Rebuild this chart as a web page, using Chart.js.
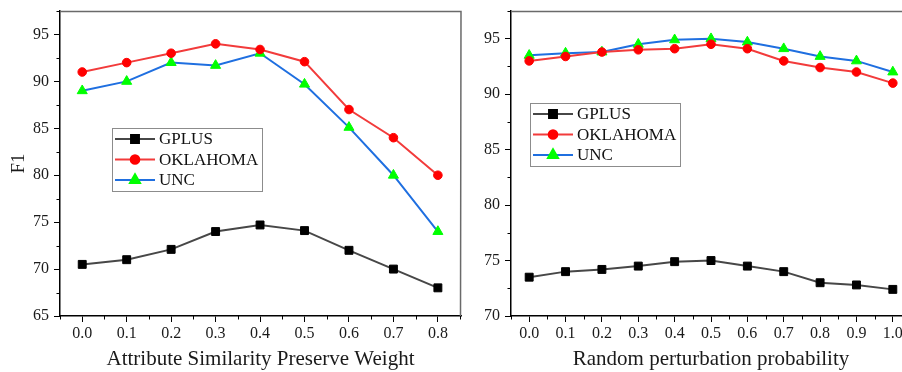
<!DOCTYPE html>
<html><head><meta charset="utf-8">
<script src="https://cdn.jsdelivr.net/npm/chart.js@4"></script>
<style>
html,body{margin:0;padding:0;background:#fff;overflow:hidden;width:902px;height:372px;}
#c1{position:absolute;left:0;top:0;}
#c2{position:absolute;left:462px;top:0;}
</style></head>
<body>
<canvas id="c1"></canvas>
<canvas id="c2"></canvas>
<script>
// ---- data: left panel ----
const weights = [0.0, 0.1, 0.2, 0.3, 0.4, 0.5, 0.6, 0.7, 0.8];
const gplusW = [70.5, 71.0, 72.1, 74.0, 74.7, 74.1, 72.0, 70.0, 68.0];
const oklaW  = [91.0, 92.0, 93.0, 94.0, 93.4, 92.1, 87.0, 84.0, 80.0];
const uncW   = [89.0, 90.0, 92.0, 91.7, 93.0, 89.7, 85.1, 80.0, 74.0];
const yTicksLeft = [65, 70, 75, 80, 85, 90, 95];

// ---- data: right panel ----
const probs  = [0.0, 0.1, 0.2, 0.3, 0.4, 0.5, 0.6, 0.7, 0.8, 0.9, 1.0];
const gplusP = [73.5, 74.0, 74.2, 74.5, 74.9, 75.0, 74.5, 74.0, 73.0, 72.8, 72.4];
const oklaP  = [93.0, 93.4, 93.8, 94.0, 94.1, 94.5, 94.1, 93.0, 92.4, 92.0, 91.0];
const uncP   = [93.5, 93.7, 93.8, 94.5, 94.9, 95.0, 94.7, 94.1, 93.4, 93.0, 92.0];
const yTicksRight = [70, 75, 80, 85, 90, 95];

const seriesNames = ['GPLUS', 'OKLAHOMA', 'UNC'];
const xTitleLeft = 'Attribute Similarity Preserve Weight';
const xTitleRight = 'Random perturbation probability';
const yTitle = 'F1';

const FONT = '"Liberation Serif", "Times New Roman", serif';

const styles = [
  {borderColor:'#474747', pointBackgroundColor:'#000', pointBorderColor:'#000', pointStyle:'rect', pointRadius:5.6},
  {borderColor:'#f23b3b', pointBackgroundColor:'#ff0000', pointBorderColor:'#ff0000', pointStyle:'circle', pointRadius:4.3},
  {borderColor:'#1f6fe0', pointBackgroundColor:'#00ff00', pointBorderColor:'#00ff00', pointStyle:'triangle', pointRadius:5.8}
];

function mkDatasets(xs, arrs){
  return arrs.map((arr,i)=>Object.assign({
    label: seriesNames[i],
    data: xs.map((x,j)=>({x:x, y:arr[j]})),
    borderWidth: 2,
    pointBorderWidth: 1,
    tension: 0,
    clip: false
  }, styles[i]));
}

function minorVals(ticks, min, max){
  const out=[];
  const step = ticks[1]-ticks[0];
  for (let i=-1;i<ticks.length;i++){
    const v = (i<0 ? ticks[0]-step/2 : ticks[i]+step/2);
    if (v>=min-1e-9 && v<=max+1e-9) out.push(v);
  }
  return out;
}

const decor = {
  id:'decor',
  afterDraw(chart, args, o){
    const ctx=chart.ctx, a=chart.chartArea;
    ctx.save();
    // frame top/right
    ctx.strokeStyle='#6a6a6a'; ctx.lineWidth=1.5;
    ctx.beginPath();
    ctx.moveTo(a.left, a.top+0.5); ctx.lineTo(a.right, a.top+0.5); ctx.lineTo(a.right-0.5, a.bottom);
    ctx.stroke();
    // minor ticks
    ctx.strokeStyle='#000'; ctx.lineWidth=1;
    const xs=chart.scales.x, ys=chart.scales.y;
    minorVals(o.xTicks, xs.min, xs.max).forEach(v=>{
      const p=Math.round(xs.getPixelForValue(v))+0.5;
      ctx.beginPath(); ctx.moveTo(p,a.bottom); ctx.lineTo(p,a.bottom+3.5); ctx.stroke();
    });
    minorVals(o.yTicks, ys.min, ys.max).forEach(v=>{
      const p=Math.round(ys.getPixelForValue(v))+0.5;
      ctx.beginPath(); ctx.moveTo(a.left,p); ctx.lineTo(a.left-3.5,p); ctx.stroke();
    });
    // legend box
    const L=o.legend;
    const x=a.left+L.dx, y=a.top+L.dy;
    ctx.strokeStyle='#8c8c8c'; ctx.lineWidth=1;
    ctx.strokeRect(Math.round(x)+0.5, Math.round(y)+0.5, L.w, L.h);
    chart.data.datasets.forEach((ds,i)=>{
      const ry=y+L.row0+i*L.rowH;
      ctx.strokeStyle=ds.borderColor; ctx.lineWidth=ds.borderWidth;
      ctx.beginPath(); ctx.moveTo(x+3,ry); ctx.lineTo(x+43,ry); ctx.stroke();
      ctx.fillStyle=ds.pointBackgroundColor; ctx.strokeStyle=ds.pointBorderColor;
      Chart.helpers.drawPoint(ctx,{pointStyle:ds.pointStyle, radius:ds.pointRadius, borderWidth:1, rotation:0}, x+23, ry);
      ctx.fillStyle='#111'; ctx.font='17px '+FONT; ctx.textBaseline='middle'; ctx.textAlign='left';
      ctx.fillText(ds.label, x+47, ry+1);
    });
    ctx.restore();
  }
};

function mkChart(id, w, xs, arrs, xTicks, xMin, xMax, yTicks, yMin, yMax, yAxisW, showYTitle, xTitle, legend){
  const cv=document.getElementById(id);
  cv.width=w; cv.height=372; cv.style.width=w+'px'; cv.style.height='372px';
  return new Chart(cv, {
    type:'line',
    data:{datasets: mkDatasets(xs, arrs)},
    options:{
      responsive:false, animation:false, devicePixelRatio:1,
      layout:{autoPadding:false, padding:{top:11, right:(id==='c1'?1:0), left:0, bottom:0}},
      plugins:{legend:{display:false}, tooltip:{enabled:false}, decor:{xTicks:xTicks, yTicks:yTicks, legend:legend}},
      scales:{
        x:{
          type:'linear', min:xMin, max:xMax,
          afterBuildTicks:s=>{ s.ticks = xTicks.map(v=>({value:v})); },
          afterFit:s=>{ s.height=56; s.paddingLeft=0; s.paddingRight=0; },
          ticks:{callback:v=>Number(v).toFixed(1), color:'#1a1a1a', font:{family:FONT, size:16}, padding:2, maxRotation:0, autoSkip:false},
          grid:{display:true, drawOnChartArea:false, drawTicks:true, tickLength:6, color:'#000', lineWidth:1},
          border:{display:true, color:'#000', width:1.5},
          title:{display:true, text:xTitle, color:'#1a1a1a', font:{family:FONT, size:21}, padding:{top:0,bottom:0}}
        },
        y:{
          min:yMin, max:yMax,
          afterBuildTicks:s=>{ s.ticks = yTicks.map(v=>({value:v})); },
          afterFit:s=>{ s.width=yAxisW; s.paddingTop=0; s.paddingBottom=0; },
          ticks:{color:'#1a1a1a', font:{family:FONT, size:16}, padding:5},
          grid:{display:true, drawOnChartArea:false, drawTicks:true, tickLength:6, color:'#000', lineWidth:1},
          border:{display:true, color:'#000', width:1.5},
          title:{display:showYTitle, text:yTitle, color:'#1a1a1a', font:{family:FONT, size:19}, padding:{top:8,bottom:0}}
        }
      }
    },
    plugins:[decor]
  });
}

mkChart('c1', 462, weights, [gplusW, oklaW, uncW], weights, -0.05, 0.852, yTicksLeft, 65, 97.5, 60, true, xTitleLeft,
  {dx:52, dy:117, w:150, h:63, row0:11, rowH:20.5});
mkChart('c2', 449, probs, [gplusP, oklaP, uncP], probs, -0.05, 1.05, yTicksRight, 70, 97.5, 49, false, xTitleRight,
  {dx:19, dy:92, w:150, h:63, row0:11, rowH:20.5});
</script>
</body></html>
